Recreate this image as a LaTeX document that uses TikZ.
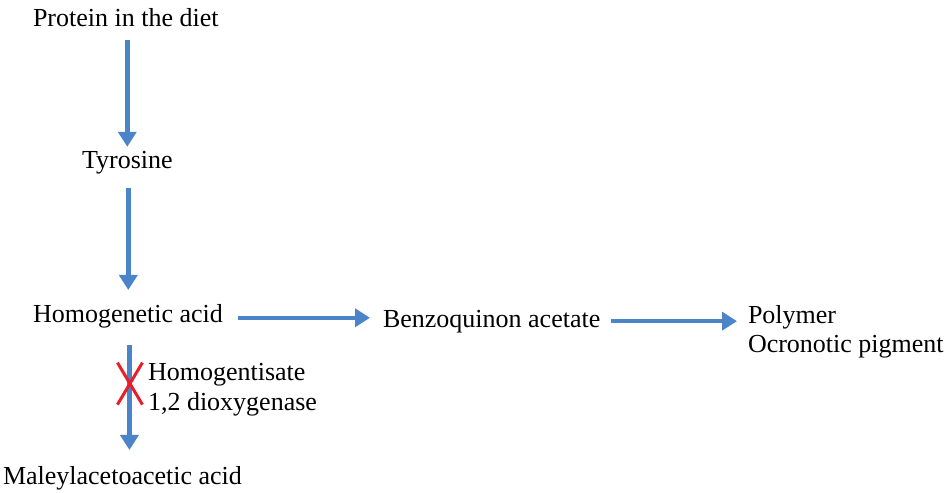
\documentclass[tikz,border=0pt]{standalone}
\usepackage{fontspec}
\newfontfamily\tnrfont{Liberation Serif}
\usetikzlibrary{arrows.meta}
\definecolor{flowblue}{RGB}{75,132,200}
\definecolor{blockred}{RGB}{232,30,40}
\tikzset{
  lbl/.style={anchor=base west, inner sep=0pt, outer sep=0pt, font=\tnrfont\fontsize{26}{30}\selectfont},
  arr/.style={draw=flowblue, line width=4.5pt, -{Triangle[width=18pt,length=15pt]}},
  cross/.style={draw=blockred, line width=3pt}
}
\begin{document}
\begin{tikzpicture}[x=1pt,y=1pt]
\useasboundingbox (0,0) rectangle (949,-492);
\node[lbl] (protein) at (33,-27) {Protein in the diet};
\node[lbl] (tyr) at (82,-168) {Tyrosine};
\node[lbl] (homog) at (33,-322) {Homogenetic acid};
\node[lbl] (benzo) at (383,-327) {Benzoquinon acetate};
\node[lbl] (poly) at (748,-323) {Polymer};
\node[lbl] (ocro) at (748,-352) {Ocronotic pigment};
\node[lbl] (enz1) at (148,-380) {Homogentisate};
\node[lbl] (enz2) at (148,-410) {1,2 dioxygenase};
\node[lbl] (male) at (3,-484) {Maleylacetoacetic acid};
% arrows
\draw[arr] ([xshift=1.5pt,yshift=-13pt]protein.south) -- ([xshift=1.5pt,yshift=4pt]protein.south |- tyr.north);
\draw[arr] ([xshift=1pt,yshift=-14pt]tyr.south) -- ([xshift=1pt,yshift=14pt]tyr.south |- homog.north);
\draw[arr] ([xshift=15pt,yshift=-2pt]homog.east) coordinate (ha) -- ([xshift=-13pt]benzo.west |- ha);
\draw[arr] ([xshift=11pt]benzo.east) -- ([xshift=-11pt]poly.west |- benzo.east);
\draw[arr] ([xshift=1.5pt,yshift=-17pt]homog.south) coordinate (xa) -- ([xshift=1.5pt,yshift=16pt]homog.south |- male.north);
% block cross
\coordinate (xc) at ([yshift=-39pt]xa);
\draw[cross] ([xshift=-12pt,yshift=21pt]xc) -- ([xshift=13pt,yshift=-21pt]xc);
\draw[cross] ([xshift=13pt,yshift=21pt]xc) -- ([xshift=-12pt,yshift=-21pt]xc);
\end{tikzpicture}
\end{document}
